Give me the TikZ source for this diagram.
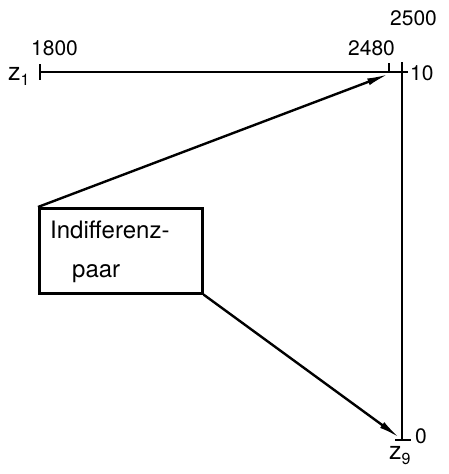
\documentclass[tikz,border=0pt]{standalone}
\usepackage{fontspec}
\setmainfont{TeX Gyre Heros}
\usetikzlibrary{arrows.meta}
\begin{document}
\begin{tikzpicture}[x=1pt,y=-1pt,line width=2.4pt,
  lbl/.style={inner sep=0pt,font=\fontsize{21}{22}\selectfont},
  zl/.style={inner sep=0pt,font=\fontsize{25}{26}\selectfont},
  txt/.style={inner sep=0pt,font=\fontsize{24}{26}\selectfont},
  arr/.style={-{Latex[length=22pt,width=7pt]}},
  box/.style={draw,line width=2.6pt,minimum width=163pt,minimum height=85pt,inner sep=0pt}]
\useasboundingbox (0,0) rectangle (449,474);
% axis z1
\coordinate (h0) at (40,72);
\coordinate (h1) at (408,72);
\draw (h0) -- (h1);
\draw (40,64) -- (40,80);
\coordinate (t2480) at (389,72);
\draw (389,63) -- (t2480);
% vertical scale
\coordinate (v0) at (402,62);
\coordinate (v1) at (402,440);
\draw (v0) -- (v1);
\draw (395,440) -- (411,440);
% labels
\node[lbl,anchor=base west] (l1800) at (30,55) {1800};
\node[lbl,anchor=base west] (l2480) at (347,55) {2480};
\node[lbl,anchor=base west] (l2500) at (389,25) {2500};
\node[lbl,anchor=base west] (l10) at (409,80) {10};
\node[lbl,anchor=base west] (l0) at (414,443) {0};
\node[zl,anchor=base west] (z1) at (7,80) {z\raisebox{-5pt}{\fontsize{16}{16}\selectfont 1}};
\node[zl,anchor=base west] (z9) at (388,459) {z\raisebox{-5pt}{\fontsize{16}{16}\selectfont 9}};
% box
\node[box,anchor=north west] (b) at (38,207) {};
\node[txt,anchor=base west] (t1) at (49,238) {Indifferenz-};
\node[txt,anchor=base west] (t2) at (71,277) {paar};
% arrows
\coordinate (a1) at (389,74);
\coordinate (a2) at (400,438);
\draw[arr] (b.north west) -- (a1);
\draw[arr] (b.south east) -- (a2);
\end{tikzpicture}
\end{document}
